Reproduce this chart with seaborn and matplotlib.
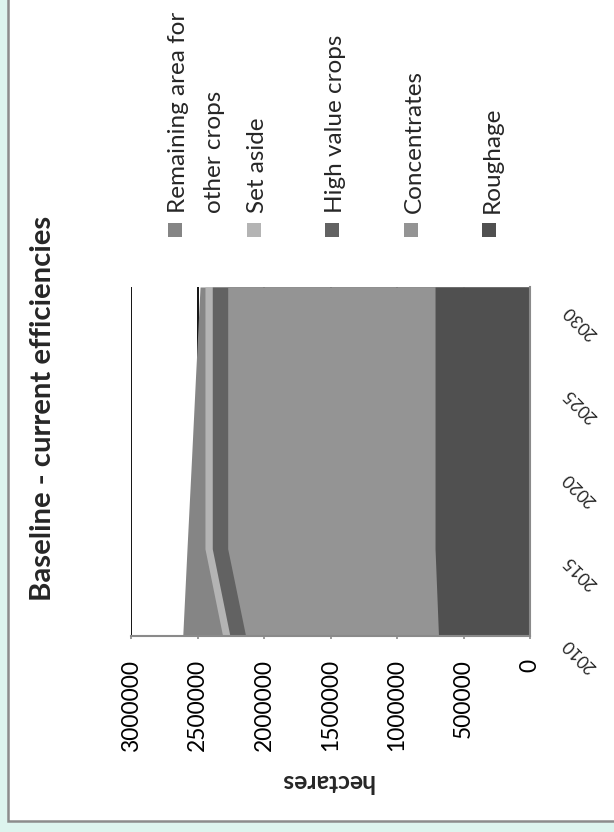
import numpy as np
import pandas as pd
import matplotlib
matplotlib.use("Agg")
import matplotlib.pyplot as plt
from matplotlib.patches import Rectangle
from matplotlib.transforms import ScaledTranslation
import seaborn as sns

# Land use per scenario year (hectares)
years = [2010, 2015, 2020, 2025, 2030]
roughage = [688000, 714000, 714000, 714000, 714000]
concentrates = [1450000, 1559000, 1559000, 1559000, 1559000]
high_value = [118000, 116000, 116000, 116000, 116000]
set_aside = [55000, 55000, 55000, 55000, 55000]
remaining = [300000, 135000, 102000, 70000, 37000]

# stacking order (first = next to zero)
series_names = ["Roughage", "Concentrates", "High value crops", "Set aside",
                "Remaining area for\nother crops"]
series_colors = ["#505050", "#949494", "#626262", "#b4b4b4", "#858585"]

year_labels = [2010, 2015, 2020, 2025, 2030]
value_ticks = [0, 500000, 1000000, 1500000, 2000000, 2500000, 3000000]
first_year, last_year, n_categories = 2010, 2030, 21

W, H, DPI = 614, 832, 100

sns.set_theme(style="white")
plt.rcParams["font.family"] = ["Lato", "DejaVu Sans"]

df = pd.DataFrame({name: vals for name, vals in zip(
    series_names, [roughage, concentrates, high_value, set_aside, remaining])},
    index=years)
cum = df.cumsum(axis=1)

fig = plt.figure(figsize=(W / DPI, H / DPI), dpi=DPI, facecolor="#ddf4ee")
renderer = fig.canvas.get_renderer()


def size_for(text, target_px, rotation=90, weight="normal"):
    """Font size at which `text`, rotated, spans target_px along its reading direction."""
    probe = fig.text(0, 0, text, fontsize=10, rotation=rotation, fontweight=weight)
    bb = probe.get_window_extent(renderer)
    span = bb.height if rotation in (90, 270) else bb.width
    probe.remove()
    return 10 * target_px / span


# white chart panel with grey frame
fig.add_artist(Rectangle((8 / W, (H - 821) / H), 1.2, 1.2, transform=fig.transFigure,
                         facecolor="white", edgecolor="#8c8c8c", lw=1.8, zorder=0))

ax = fig.add_axes([131 / W, (H - 636) / H, (530 - 131) / W, (636 - 287) / H])
ax.set_facecolor("white")

# stacked areas, drawn from the top of the stack down so the edges meet cleanly
for name, color in reversed(list(zip(series_names, series_colors))):
    ax.fill_betweenx(df.index, 0, cum[name], color=color, lw=0, zorder=2)

ax.set_xlim(3000000, 0)
ax.set_ylim(first_year, last_year)

value_size = size_for("3000000", 92)
ax.set_xticks(value_ticks)
ax.set_xticklabels([str(v) for v in value_ticks], rotation=90)
ax.tick_params(axis="x", bottom=True, length=2.5, width=1.2, color="#8a8a8a",
               pad=14, labelsize=value_size, labelcolor="black")

ax.grid(axis="x", color="black", lw=1.3)
ax.grid(axis="y", visible=False)
ax.set_axisbelow(True)

for side in ("top", "left"):
    ax.spines[side].set_visible(False)
for side in ("bottom", "right"):
    ax.spines[side].set_color("#8a8a8a")
    ax.spines[side].set_linewidth(1.5)
    ax.spines[side].set_zorder(3)

# year labels sit at the centre of their category slot
step = (last_year - first_year) / n_categories
label_pos = [first_year + (y - first_year + 0.5) * step for y in year_labels]
ax.yaxis.tick_right()
ax.set_yticks(label_pos)
ax.set_yticklabels([str(y) for y in year_labels], rotation=135, ha="center",
                   va="center", rotation_mode="anchor")
ax.tick_params(axis="y", right=True, left=False, length=0, pad=36, labelsize=12.5,
               labelright=True, labelleft=False)
shift = ScaledTranslation(0, -27.4 / DPI, fig.dpi_scale_trans)
for lab in ax.get_yticklabels():
    lab.set_transform(lab.get_transform() + shift)

fig.text(43 / W, 1 - 408 / H, "Baseline - current efficiencies", rotation=90,
         ha="center", va="center", fontweight="bold",
         fontsize=size_for("Baseline - current efficiencies", 389, weight="bold"))
fig.text(327 / W, 1 - 782 / H, "hectares", rotation=180, ha="center", va="center",
         fontweight="bold", fontsize=size_for("hectares", 94, rotation=0, weight="bold"))

# legend: one column per series, text reading upwards
legend_size = size_for("High value crops", 178)
legend_x = [168, 247, 325, 404, 482]
for x, name, color in zip(legend_x, series_names[::-1], series_colors[::-1]):
    fig.add_artist(Rectangle((x / W, 1 - 237 / H), 14 / W, 14 / H,
                             transform=fig.transFigure, facecolor=color, lw=0))
    fig.text(x / W, 1 - 213 / H, name, rotation=90, ha="left", va="bottom",
             fontsize=legend_size, linespacing=1.9, multialignment="left")

fig.savefig("out.png", dpi=DPI, facecolor=fig.get_facecolor())
